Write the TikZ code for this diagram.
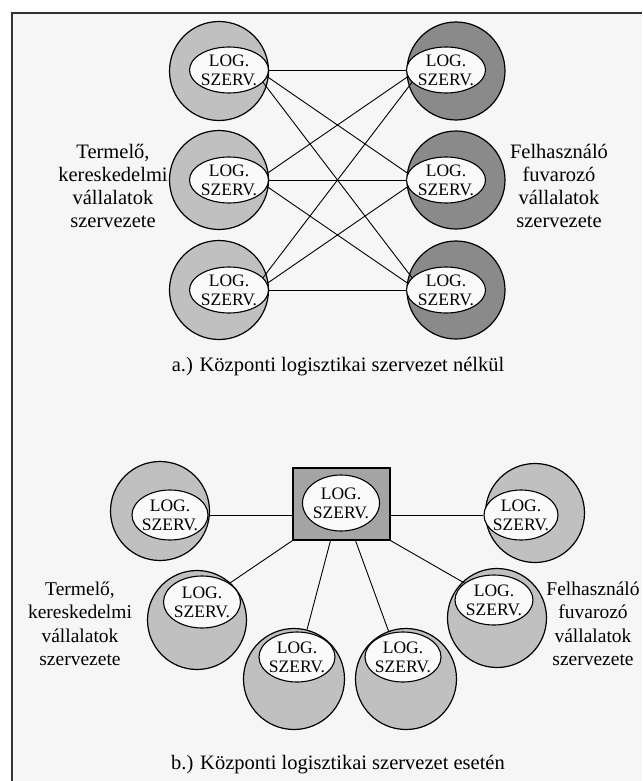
\documentclass[tikz,border=0pt]{standalone}
\usepackage{fontspec}
\setmainfont{Liberation Serif}
\usetikzlibrary{shapes.geometric}
\definecolor{bgc}{RGB}{246,246,246}
\definecolor{lightc}{RGB}{192,192,192}
\definecolor{darkc}{RGB}{138,138,138}
\definecolor{sqc}{RGB}{164,164,164}
\definecolor{ellc}{RGB}{250,250,250}
\tikzset{
  outerL/.style={circle, draw, line width=1.2pt, fill=lightc, minimum size=99pt, inner sep=0pt},
  outerD/.style={circle, draw, line width=1.2pt, fill=darkc, minimum size=98pt, inner sep=0pt},
  inell/.style={ellipse, draw, line width=1.1pt, fill=ellc, inner sep=0pt, minimum width=79pt, minimum height=46pt},
  logtxt/.style={align=center, inner sep=0pt, font=\fontsize{17.5}{19}\selectfont},
  lbl/.style={align=center, inner sep=0pt, font=\fontsize{20.5}{23}\selectfont},
  lblb/.style={align=center, inner sep=0pt, font=\fontsize{19.5}{23.5}\selectfont},
  conn/.style={line width=0.9pt},
}
\begin{document}
\begin{tikzpicture}[x=1pt, y=-1pt]
\useasboundingbox (0,0) rectangle (642,781);
\fill[bgc] (12,13) rectangle (642,781);
\draw[line width=1.5pt, black!80] (12,781) -- (12,13) -- (642,13);

% ---------- a.) ----------
\node[outerL] (a1o) at (219,71) {};
\node[outerL] (a2o) at (219,180) {};
\node[outerL] (a3o) at (219,290) {};
\node[outerD] (b1o) at (456,71) {};
\node[outerD] (b2o) at (456,180) {};
\node[outerD] (b3o) at (456,290) {};
\node[inell] (a1) at (229,70) {};
\node[inell] (a2) at (229,180) {};
\node[inell] (a3) at (229,290) {};
\node[inell] (b1) at (446,70) {};
\node[inell] (b2) at (446,180) {};
\node[inell] (b3) at (446,290) {};
\foreach \n in {a1,a2,a3,b1,b2,b3}{
  \node[logtxt] (\n t) at (\n) {LOG.\\SZERV.};
}
\draw[conn] (a1.east) -- (b1.west);
\draw[conn] (a1.-10) -- (b2.170);
\draw[conn] (a1.-20) -- (b3.160);
\draw[conn] (a2.10) -- (b1.190);
\draw[conn] (a2.east) -- (b2.west);
\draw[conn] (a2.-10) -- (b3.170);
\draw[conn] (a3.20) -- (b1.200);
\draw[conn] (a3.10) -- (b2.190);
\draw[conn] (a3.east) -- (b3.west);

\node[lbl] (la) at (113,186) {Termelő,\\kereskedelmi\\vállalatok\\szervezete};
\node[lbl] (ra) at (559,186) {Felhasználó\\fuvarozó\\vállalatok\\szervezete};
\node[lbl] (capa) at (338,367) {a.) Központi logisztikai szervezet nélkül};

% ---------- b.) ----------
\node[rectangle, draw, line width=1.2pt, fill=sqc, minimum width=97pt, minimum height=72pt, inner sep=0pt] (S) at (341.5,504) {};
\node[inell, minimum width=77pt, minimum height=56pt] (Si) at (341,503) {};
\node[logtxt] (Sit) at (Si) {LOG.\\SZERV.};

\node[outerL] (tlo) at (160,511) {};
\node[inell, minimum width=76pt, minimum height=50pt] (tli) at (170,515) {};
\node[outerL] (tro) at (535,513) {};
\node[inell, minimum width=74pt, minimum height=50pt] (tri) at (521,515) {};
\node[outerL] (mlo) at (197,620) {};
\node[inell, minimum width=77pt, minimum height=52pt] (mli) at (202,602) {};
\node[outerL] (mro) at (497,618) {};
\node[inell, minimum width=78pt, minimum height=50pt] (mri) at (494,600) {};
\node[outerL, minimum size=101pt] (llo) at (294,679) {};
\node[inell, minimum width=76pt, minimum height=50pt] (lli) at (297,657) {};
\node[outerL, minimum size=101pt] (lro) at (406,679) {};
\node[inell, minimum width=76pt, minimum height=50pt] (lri) at (403,657) {};
\foreach \n in {tli,tri,mli,mri,lli,lri}{
  \node[logtxt] (\n t) at (\n) {LOG.\\SZERV.};
}
\draw[conn] (tli.east) -- (tli.east -| S.west);
\draw[conn] (tri.west) -- (tri.west -| S.east);
\draw[conn] (S.south west) -- (mli);
\draw[conn] ([xshift=-11pt]S.south) -- (llo);
\draw[conn] ([xshift=14pt]S.south) -- (lro);
\draw[conn] (S.south east) -- (mri);

\node[lblb] (lb) at (80,624) {Termelő,\\kereskedelmi\\vállalatok\\szervezete};
\node[lblb] (rb) at (593,624) {Felhasználó\\fuvarozó\\vállalatok\\szervezete};
\node[lbl] (capb) at (338,765) {b.) Központi logisztikai szervezet esetén};
\end{tikzpicture}
\end{document}
